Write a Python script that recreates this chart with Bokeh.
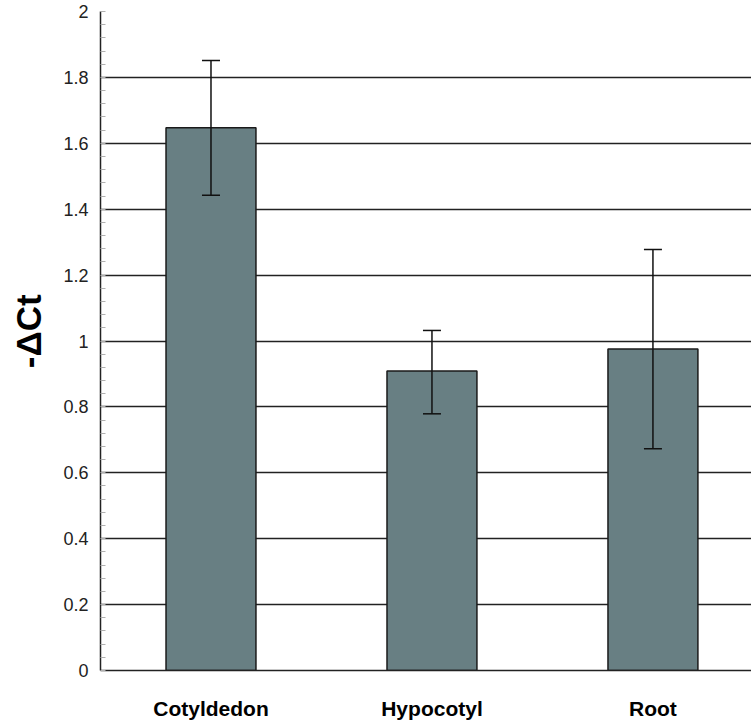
from bokeh.plotting import figure
from bokeh.models import Range1d, FixedTicker, Whisker, ColumnDataSource, TeeHead
from bokeh.embed import file_html
from bokeh.resources import INLINE

categories = ["Cotyldedon", "Hypocotyl", "Root"]
values = [1.647, 0.909, 0.976]
err_upper = [1.851, 1.032, 1.278]
err_lower = [1.442, 0.779, 0.673]
y_ticks = [0, 0.2, 0.4, 0.6, 0.8, 1, 1.2, 1.4, 1.6, 1.8, 2]
y_tick_labels = ["0", "0.2", "0.4", "0.6", "0.8", "1", "1.2", "1.4", "1.6", "1.8", "2"]
y_label = "-\u0394Ct"

x = [i + 0.5 for i in range(len(categories))]
src = ColumnDataSource(dict(x=x, top=values, upper=err_upper, lower=err_lower))

FONT = "Liberation Sans"
DARK = "#222222"

p = figure(frame_width=651, frame_height=659, output_backend="svg", toolbar_location=None,
           x_range=Range1d(0, 2.946), y_range=Range1d(0, 2),
           min_border_left=100, min_border_right=0, min_border_top=11, min_border_bottom=53,
           background_fill_color="white", border_fill_color="white")
p.outline_line_color = None

p.vbar(x="x", top="top", width=0.407, source=src, fill_color="#687f83",
       line_color="#1a1a1a", line_width=1.5)

w = Whisker(base="x", upper="upper", lower="lower", source=src, line_color="#111111",
            line_width=1.5, level="annotation",
            upper_head=TeeHead(size=18, line_color="#111111", line_width=1.5),
            lower_head=TeeHead(size=18, line_color="#111111", line_width=1.5))
p.add_layout(w)

# grid
p.xgrid.grid_line_color = None
p.ygrid.ticker = FixedTicker(ticks=y_ticks)
p.ygrid.grid_line_color = DARK
p.ygrid.grid_line_width = 1.5

# y axis
minor = [round(i * 0.04, 2) for i in range(51)]
p.yaxis.ticker = FixedTicker(ticks=y_ticks, minor_ticks=minor)
p.yaxis.major_label_overrides = {t: l for t, l in zip(y_ticks, y_tick_labels)}
p.yaxis.major_tick_in = 0
p.yaxis.major_tick_out = 0
p.yaxis.minor_tick_in = 5
p.yaxis.minor_tick_out = 0
p.yaxis.minor_tick_line_color = "#b0b0b0"
p.yaxis.axis_line_color = DARK
p.yaxis.axis_line_width = 1.5
p.yaxis.major_label_standoff = 12
p.yaxis.major_label_text_font = FONT
p.yaxis.major_label_text_font_size = "18px"
p.yaxis.major_label_text_color = DARK
# leading non-breaking spaces nudge the rotated label upward as in the reference
p.yaxis.axis_label = "\u00a0\u00a0" + y_label
p.yaxis.axis_label_text_font = FONT
p.yaxis.axis_label_text_font_size = "35px"
p.yaxis.axis_label_text_font_style = "bold"
p.yaxis.axis_label_text_color = "black"
p.yaxis.axis_label_standoff = 12

# x axis
p.xaxis.ticker = FixedTicker(ticks=x)
p.xaxis.major_label_overrides = {t: c for t, c in zip(x, categories)}
p.xaxis.major_tick_in = 0
p.xaxis.major_tick_out = 0
p.xaxis.minor_tick_line_color = None
p.xaxis.axis_line_color = DARK
p.xaxis.axis_line_width = 1.5
p.xaxis.major_label_standoff = 26
p.xaxis.major_label_text_font = FONT
p.xaxis.major_label_text_font_size = "21px"
p.xaxis.major_label_text_font_style = "bold"
p.xaxis.major_label_text_color = "black"

open("out.html", "w").write(file_html(p, INLINE))
